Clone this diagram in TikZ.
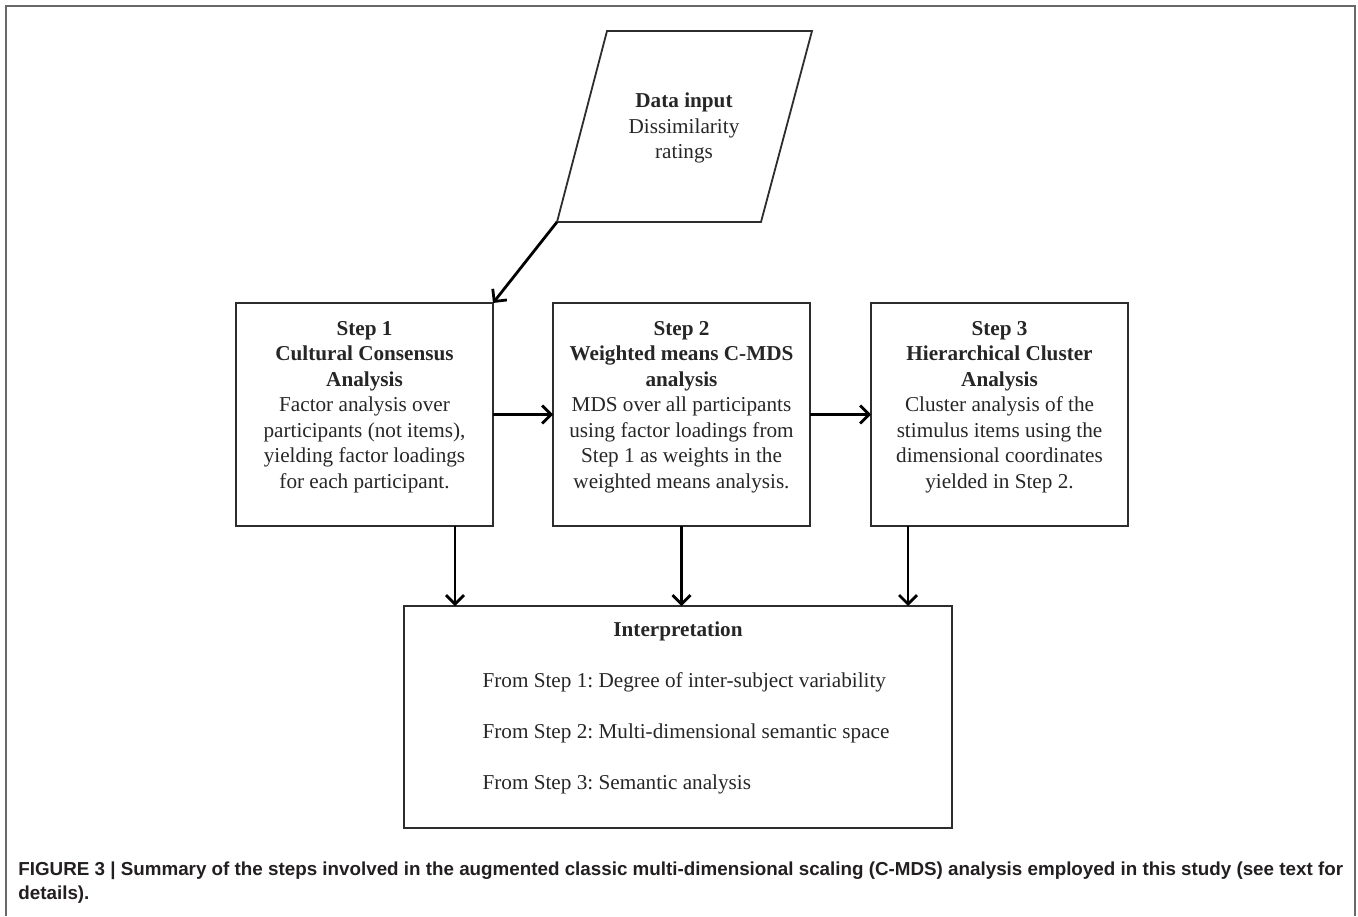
\documentclass[tikz,border=0pt]{standalone}
\usepackage{fontspec}
\setmainfont{Liberation Serif}
\setsansfont{Liberation Sans}
\usetikzlibrary{positioning,arrows.meta,calc}
\definecolor{framegray}{RGB}{105,105,105}
\definecolor{linegray}{RGB}{45,45,45}
\definecolor{captiontext}{RGB}{35,31,32}
\frenchspacing
\newcommand{\boxfont}{\fontsize{10.6pt}{12.75pt}\selectfont}
\newcommand{\stepcontent}[1]{\parbox[c][111.5pt][t]{128.5pt}{\centering\vspace*{9pt}#1}}
\tikzset{
  stepbox/.style={draw=linegray, line width=0.9pt, inner sep=0pt, outer sep=0pt, font=\boxfont, text=black!85},
  arr/.style={line width=1.4pt, -{Straight Barb[length=4.5pt,width=9pt]}},
}

\begin{document}
\begin{tikzpicture}[x=0.5pt, y=0.5pt]
  \useasboundingbox (0,0) rectangle (1358,-916);
  % frame
  \draw[framegray, line width=1pt] (6,-916) -- (6,-6) -- (1355,-6) -- (1355,-916);
  % data input
  \coordinate (dl) at (557,-222);
  \draw[linegray, line width=0.9pt] (dl) -- (607,-31) -- (812,-31) -- (761,-222) -- cycle;
  \node[font=\boxfont, text=black!85, align=center] (datain) at (684,-128)
    {\textbf{Data input}\\ Dissimilarity\\ ratings};
  % steps
  \node[stepbox] (step1) at (364.5,-414.5) {\stepcontent{\textbf{Step 1}\\ \textbf{Cultural Consensus}\\ \textbf{Analysis}\\ Factor analysis over\\ participants (not items),\\ yielding factor loadings\\ for each participant.}};
  \node[stepbox, right=30pt of step1] (step2) {\stepcontent{\textbf{Step 2}\\ \textbf{Weighted means C-MDS}\\ \textbf{analysis}\\ MDS over all participants\\ using factor loadings from\\ Step 1 as weights in the\\ weighted means analysis.}};
  \node[stepbox, right=30.5pt of step2] (step3) {\stepcontent{\textbf{Step 3}\\ \textbf{Hierarchical Cluster}\\ \textbf{Analysis}\\ Cluster analysis of the\\ stimulus items using the\\ dimensional coordinates\\ yielded in Step 2.}};
  % interpretation
  \node[stepbox, below=40pt of step2, xshift=-1.75pt] (interp) {\parbox[c][111pt][t]{274pt}{\centering\vspace*{8pt}\textbf{Interpretation}\\[12.75pt]
    \hspace*{8pt}\begin{tabular}[t]{@{}l@{}}
      From Step 1: Degree of inter-subject variability\\[12.75pt]
      From Step 2: Multi-dimensional semantic space\\[12.75pt]
      From Step 3: Semantic analysis
    \end{tabular}}};
  % connectors
  \draw[arr] (dl) -- (step1.north east);
  \draw[arr] (step1) -- (step2);
  \draw[arr] (step2) -- (step3);
  \coordinate (out1) at ([xshift=-19pt]step1.south east);
  \coordinate (out3) at ([xshift=18.5pt]step3.south west);
  \draw[arr] (out1) -- (out1 |- interp.north);
  \draw[arr] (step2.south) -- (step2.south |- interp.north);
  \draw[arr] (out3) -- (out3 |- interp.north);
  % caption
  \node[anchor=north west, align=left, inner sep=0pt, text=captiontext,
    font=\sffamily\bfseries\fontsize{9.4pt}{12pt}\selectfont] (caption) at (18,-861)
    {FIGURE 3 | Summary of the steps involved in the augmented classic multi-dimensional scaling (C-MDS) analysis employed in this study (see text for\\ details).};
\end{tikzpicture}
\end{document}
